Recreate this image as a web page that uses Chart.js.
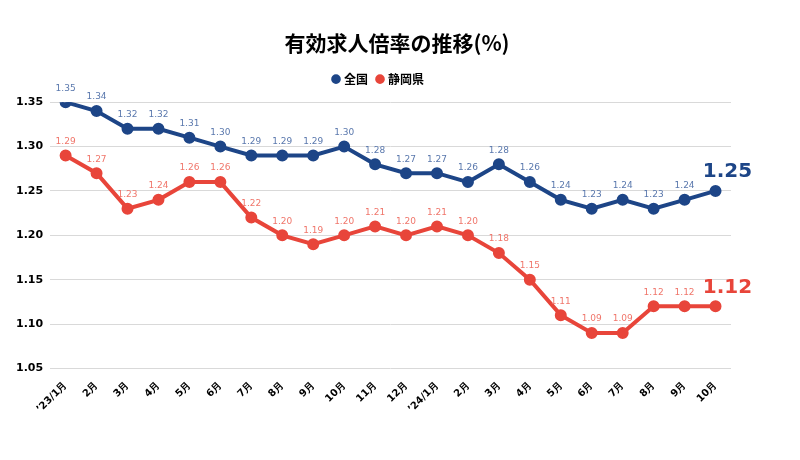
<!DOCTYPE html>
<html>
<head>
<meta charset="utf-8">
<script src="https://cdn.jsdelivr.net/npm/chart.js@4"></script>
<style>
  html, body { margin: 0; padding: 0; background: #fff; }
  #wrap { width: 800px; height: 460px; }
</style>
</head>
<body>
<div id="wrap"><canvas id="chart" width="800" height="460"></canvas></div>
<script>
// 月ラベル
const months = ['’23/1月', '2月', '3月', '4月', '5月', '6月', '7月', '8月', '9月', '10月', '11月', '12月',
  '’24/1月', '2月', '3月', '4月', '5月', '6月', '7月', '8月', '9月', '10月'];

// 全国
const national = [1.35, 1.34, 1.32, 1.32, 1.31, 1.30, 1.29, 1.29, 1.29, 1.30, 1.28, 1.27,
  1.27, 1.26, 1.28, 1.26, 1.24, 1.23, 1.24, 1.23, 1.24, 1.25];

// 静岡県
const shizuoka = [1.29, 1.27, 1.23, 1.24, 1.26, 1.26, 1.22, 1.20, 1.19, 1.20, 1.21, 1.20,
  1.21, 1.20, 1.18, 1.15, 1.11, 1.09, 1.09, 1.12, 1.12, 1.12];

const yTicks = [1.05, 1.10, 1.15, 1.20, 1.25, 1.30, 1.35];

const BLUE = '#1d4587';
const RED = '#e8453a';
const LABEL_FONT = 'Verdana, "DejaVu Sans", sans-serif';

// 値ラベルを描く（最後の点だけ大きく）
const valueLabels = {
    id: 'valueLabels',
    afterDatasetsDraw(chart) {
        const ctx = chart.ctx;
        chart.data.datasets.forEach((ds, i) => {
            const meta = chart.getDatasetMeta(i);
            const last = ds.data.length - 1;
            meta.data.forEach((pt, j) => {
                const text = ds.data[j].toFixed(2);
                ctx.save();
                ctx.textAlign = 'center';
                ctx.textBaseline = 'middle';
                if (j === last) {
                    ctx.font = 'bold 20px ' + LABEL_FONT;
                    ctx.fillStyle = ds.borderColor;
                    ctx.fillText(text, pt.x + 12, pt.y - 19);
                } else {
                    ctx.font = '9px ' + LABEL_FONT;
                    ctx.fillStyle = ds.labelColor;
                    ctx.fillText(text, pt.x, pt.y - 14);
                }
                ctx.restore();
            });
        });
    }
};

// 凡例の下に少し余白を足し、タイトルはキャンバス中央に寄せる
const headerTweak = {
    id: 'headerTweak',
    beforeInit(chart) {
        const origFit = chart.legend.fit;
        chart.legend.fit = function () {
            origFit.bind(chart.legend)();
            this.height += 7;
        };
    },
    afterLayout(chart) {
        chart.titleBlock.left = 0;
        chart.titleBlock.right = chart.width - 6;
        chart.legend.left += 9;
        chart.legend.right += 9;
    }
};

new Chart(document.getElementById('chart'), {
    type: 'line',
    data: {
        labels: months,
        datasets: [{
            label: '全国',
            data: national,
            borderColor: BLUE,
            backgroundColor: BLUE,
            labelColor: '#5a78ad',
            borderWidth: 4,
            pointRadius: 4,
            pointHoverRadius: 4,
            tension: 0
        }, {
            label: '静岡県',
            data: shizuoka,
            borderColor: RED,
            backgroundColor: RED,
            labelColor: '#f0766b',
            borderWidth: 4,
            pointRadius: 4,
            pointHoverRadius: 4,
            tension: 0
        }]
    },
    options: {
        responsive: false,
        animation: false,
        layout: { padding: { left: 9, right: 69, bottom: 42, top: 8 } },
        scales: {
            x: {
                offset: true,
                grid: { display: false },
                border: { display: false },
                ticks: {
                    color: '#000',
                    font: { family: LABEL_FONT, weight: 'bold', size: 10 },
                    maxRotation: 45,
                    minRotation: 45,
                    autoSkip: false
                }
            },
            y: {
                min: 1.05,
                max: 1.35,
                afterBuildTicks: (axis) => { axis.ticks = yTicks.map(v => ({ value: v })); },
                grid: { color: '#d9d9d9', drawTicks: false },
                border: { display: false },
                ticks: {
                    color: '#000',
                    padding: 7,
                    font: { family: LABEL_FONT, weight: 'bold', size: 11 },
                    callback: (v) => Number(v).toFixed(2)
                }
            }
        },
        plugins: {
            title: {
                display: true,
                text: '有効求人倍率の推移(%)',
                color: '#000',
                font: { family: '"Noto Sans CJK JP"', weight: 'bold', size: 21 },
                padding: { top: 22, bottom: 8 }
            },
            legend: {
                labels: {
                    usePointStyle: true,
                    pointStyle: 'circle',
                    boxWidth: 4,
                    boxHeight: 4,
                    color: '#000',
                    font: { family: '"Noto Sans CJK JP"', weight: 'bold', size: 12 }
                }
            },
            tooltip: { enabled: false }
        }
    },
    plugins: [valueLabels, headerTweak]
});
</script>
</body>
</html>
